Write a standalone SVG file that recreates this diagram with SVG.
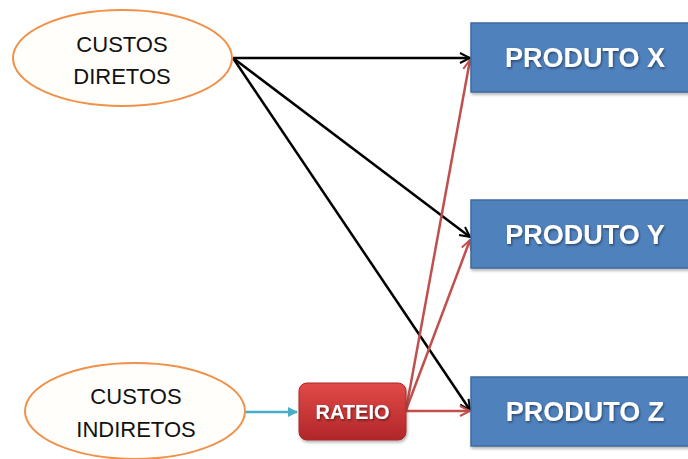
<svg xmlns="http://www.w3.org/2000/svg" width="688" height="459" viewBox="0 0 688 459">
  <defs>
    <style>
      .cost { fill: #FFFEFB; stroke: #F0914A; stroke-width: 2; }
      .cost-text { font-family: "Liberation Sans", Arial, sans-serif; font-size: 22px; fill: #111; text-anchor: middle; }
      .prod { fill: #4F81BD; stroke: #3D6B9E; stroke-width: 1.5; }
      .prod-text { font-family: "Liberation Sans", Arial, sans-serif; font-weight: bold; font-size: 27px; fill: #FFFFFF; text-anchor: middle; }
      .rateio-text { font-family: "Liberation Sans", Arial, sans-serif; font-weight: bold; font-size: 20px; fill: #FFFFFF; text-anchor: middle; }
      .direct { stroke: #000; stroke-width: 2.5; fill: none; marker-end: url(#headBlack); }
      .alloc { stroke: #C0504D; stroke-width: 2.5; fill: none; marker-end: url(#headRed); }
      .feed { stroke: #4BACC6; stroke-width: 2.5; fill: none; marker-end: url(#headTeal); }
    </style>
    <marker id="headBlack" viewBox="0 0 10 10" refX="9" refY="5" markerWidth="5" markerHeight="5" markerUnits="strokeWidth" orient="auto">
      <path d="M1,1 L9,5 L1,9" fill="none" stroke="#000" stroke-width="1.6"/>
    </marker>
    <marker id="headRed" viewBox="0 0 10 10" refX="9" refY="5" markerWidth="5" markerHeight="5" markerUnits="strokeWidth" orient="auto">
      <path d="M1,1 L9,5 L1,9" fill="none" stroke="#C0504D" stroke-width="1.6"/>
    </marker>
    <marker id="headTeal" viewBox="0 0 10 10" refX="9" refY="5" markerWidth="4" markerHeight="4" markerUnits="strokeWidth" orient="auto">
      <path d="M0,0 L10,5 L0,10 Z" fill="#4BACC6"/>
    </marker>
    <linearGradient id="redFill" x1="0" y1="0" x2="0" y2="1">
      <stop offset="0" stop-color="#E24A47"/>
      <stop offset="1" stop-color="#B0262A"/>
    </linearGradient>
    <filter id="boxShadow" x="-10%" y="-10%" width="130%" height="140%">
      <feDropShadow dx="1" dy="2" stdDeviation="1.5" flood-color="#000" flood-opacity="0.3"/>
    </filter>
    <filter id="textShadow" x="-10%" y="-20%" width="120%" height="150%">
      <feDropShadow dx="1" dy="1.5" stdDeviation="1" flood-color="#000" flood-opacity="0.45"/>
    </filter>
  </defs>

  <rect width="688" height="459" fill="#FFFFFF"/>

  <!-- connectors -->
  <g id="connectors">
    <line class="direct" x1="233" y1="58" x2="470" y2="58"/>
    <line class="direct" x1="233" y1="58" x2="470" y2="237"/>
    <line class="direct" x1="233" y1="58" x2="470" y2="410"/>
    <line class="alloc" x1="406" y1="410" x2="470" y2="60"/>
    <line class="alloc" x1="406" y1="410" x2="470" y2="240"/>
    <line class="alloc" x1="406" y1="411" x2="470" y2="411"/>
    <line class="feed" x1="245" y1="412" x2="297" y2="412"/>
  </g>

  <g id="custos-diretos">
    <ellipse class="cost" cx="122.5" cy="58" rx="109.5" ry="48"/>
    <text class="cost-text" x="122" y="52">CUSTOS</text>
    <text class="cost-text" x="122" y="84">DIRETOS</text>
  </g>

  <g id="custos-indiretos">
    <ellipse class="cost" cx="135" cy="411" rx="110" ry="48"/>
    <text class="cost-text" x="136" y="404">CUSTOS</text>
    <text class="cost-text" x="136" y="437">INDIRETOS</text>
  </g>

  <g id="rateio">
    <rect x="299" y="383" width="107" height="57" rx="8" fill="url(#redFill)" stroke="#A8292B" stroke-width="1" filter="url(#boxShadow)"/>
    <text class="rateio-text" x="352.5" y="419" filter="url(#textShadow)">RATEIO</text>
  </g>

  <g id="produto-x">
    <rect class="prod" x="471" y="23" width="220" height="69" filter="url(#boxShadow)"/>
    <text class="prod-text" x="585" y="67" filter="url(#textShadow)">PRODUTO X</text>
  </g>

  <g id="produto-y">
    <rect class="prod" x="471" y="200" width="220" height="68" filter="url(#boxShadow)"/>
    <text class="prod-text" x="585" y="244" filter="url(#textShadow)">PRODUTO Y</text>
  </g>

  <g id="produto-z">
    <rect class="prod" x="471" y="377" width="220" height="69" filter="url(#boxShadow)"/>
    <text class="prod-text" x="585" y="421" filter="url(#textShadow)">PRODUTO Z</text>
  </g>
</svg>
